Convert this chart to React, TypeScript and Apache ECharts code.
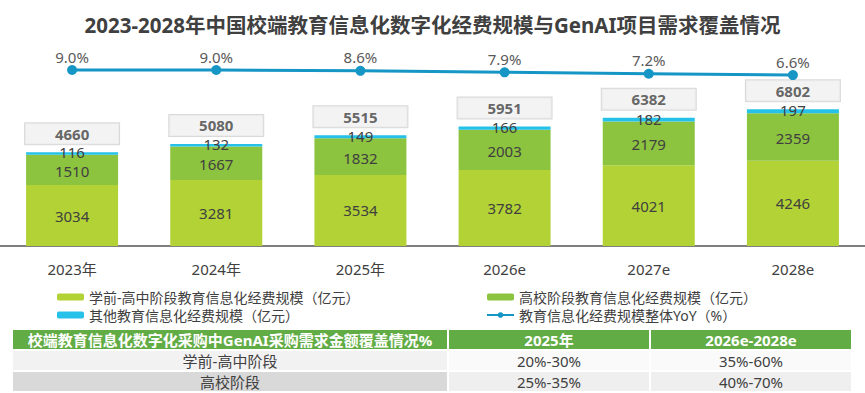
import React, { useEffect, useRef } from 'react';
import * as echarts from 'echarts';

const categories = ['2023年', '2024年', '2025年', '2026e', '2027e', '2028e'];
const k12Values = [3034, 3281, 3534, 3782, 4021, 4246];
const higherEdValues = [1510, 1667, 1832, 2003, 2179, 2359];
const otherValues = [116, 132, 149, 166, 182, 197];
const totalValues = [4660, 5080, 5515, 5951, 6382, 6802];
const yoyValues = [9.0, 9.0, 8.6, 7.9, 7.2, 6.6];

const seriesNames = [
  '学前-高中阶段教育信息化经费规模（亿元）',
  '高校阶段教育信息化经费规模（亿元）',
  '其他教育信息化经费规模（亿元）',
  '教育信息化经费规模整体YoY（%）',
];

const tableHeader = ['校端教育信息化数字化采购中GenAI采购需求金额覆盖情况%', '2025年', '2026e-2028e'];
const tableRows = [
  ['学前-高中阶段', '20%-30%', '35%-60%'],
  ['高校阶段', '25%-35%', '40%-70%'],
];

const FONT = "'Noto Sans', 'Noto Sans CJK SC', sans-serif";
const TEXT = '#404040';

export default function App() {
  const ref = useRef<HTMLDivElement>(null);

  useEffect(() => {
    if (!ref.current) return;
    const chart = echarts.init(ref.current, undefined, { renderer: 'svg' });

    const colX = [[13, 447], [449, 649], [651, 851]];
    const rowY = [[330, 19], [351, 19], [372, 19]];
    const rowFills = [
      ['#62ac45', '#62ac45', '#62ac45'],
      ['#f2f2f2', '#fafafa', '#fafafa'],
      ['#d9d9d9', '#efefef', '#efefef'],
    ];
    const tableData = [tableHeader, ...tableRows];
    const graphics: any[] = [];
    tableData.forEach((row, ri) => {
      row.forEach((cell, ci) => {
        const [x0, x1] = colX[ci];
        const [y0, h] = rowY[ri];
        graphics.push({
          type: 'rect',
          shape: { x: x0, y: y0, width: x1 - x0, height: h },
          style: { fill: rowFills[ri][ci] },
          silent: true,
        });
        graphics.push({
          type: 'text',
          x: (x0 + x1) / 2,
          y: y0 + h / 2 + 0.5,
          style: {
            text: cell,
            fill: ri === 0 ? '#ffffff' : TEXT,
            font: `${ri === 0 ? 'bold ' : ''}15px ${FONT}`,
            textAlign: 'center',
            textVerticalAlign: 'middle',
          },
          silent: true,
        });
      });
    });

    const legendCommon = {
      orient: 'vertical' as const,
      itemWidth: 27,
      itemHeight: 7,
      itemGap: 2,
      textStyle: { fontSize: 14, color: TEXT, fontFamily: FONT, lineHeight: 16 },
      selectedMode: false,
    };

    const labelCommon = {
      show: true,
      position: 'inside',
      fontSize: 15,
      lineHeight: 13,
      color: TEXT,
      fontFamily: FONT,
    };

    chart.setOption({
      animation: false,
      textStyle: { fontFamily: FONT },
      title: {
        text: '2023-2028年中国校端教育信息化数字化经费规模与GenAI项目需求覆盖情况',
        left: 'center',
        top: 15,
        padding: 0,
        textStyle: { fontSize: 20.5, fontWeight: 'bold', color: TEXT, fontFamily: FONT },
      },
      legend: [
        { ...legendCommon, left: 52, top: 284, data: [seriesNames[0], seriesNames[2]] },
        { ...legendCommon, left: 481, top: 284, data: [seriesNames[1], seriesNames[3]] },
      ],
      grid: [
        { left: -7.5, right: -9.5, top: 50, bottom: 147 },
        { left: -7.5, right: -9.5, top: 30, height: 60 },
      ],
      xAxis: [
        {
          type: 'category',
          gridIndex: 0,
          data: categories,
          axisLine: { lineStyle: { color: '#7f7f7f', width: 2 } },
          axisTick: { show: false },
          axisLabel: { fontSize: 15, color: TEXT, margin: 15, fontFamily: FONT },
        },
        { type: 'category', gridIndex: 1, data: categories, show: false },
      ],
      yAxis: [
        { type: 'value', gridIndex: 0, min: 0, max: 9751, show: false, splitLine: { show: false } },
        { type: 'value', gridIndex: 1, min: -0.52, max: 28.05, show: false, splitLine: { show: false } },
      ],
      series: [
        {
          name: seriesNames[0],
          type: 'bar',
          stack: 'total',
          barWidth: 92,
          data: k12Values,
          itemStyle: { color: '#b2d235' },
          label: labelCommon,
        },
        {
          name: seriesNames[1],
          type: 'bar',
          stack: 'total',
          barWidth: 92,
          data: higherEdValues,
          itemStyle: { color: '#8cc33f' },
          label: { ...labelCommon, offset: [0, 1] },
        },
        {
          name: seriesNames[2],
          type: 'bar',
          stack: 'total',
          barWidth: 92,
          data: otherValues,
          itemStyle: { color: '#25c1e8' },
          label: { ...labelCommon, offset: [0, -1] },
        },
        {
          name: 'total',
          type: 'scatter',
          data: totalValues,
          symbolSize: 0,
          silent: true,
          label: {
            show: true,
            position: 'top',
            distance: 8,
            fontSize: 15,
            fontWeight: 'bold',
            color: TEXT,
            fontFamily: FONT,
            backgroundColor: '#f0f0f0',
            borderColor: '#d0d0d0',
            borderWidth: 1,
            padding: [3, 5],
            width: 84,
            align: 'center',
          },
        },
        {
          name: seriesNames[3],
          type: 'line',
          xAxisIndex: 1,
          yAxisIndex: 1,
          data: yoyValues,
          symbol: 'circle',
          symbolSize: 10,
          lineStyle: { color: '#1596c5', width: 3 },
          itemStyle: { color: '#1596c5' },
          label: {
            show: true,
            position: 'top',
            distance: 1,
            fontSize: 15,
            color: '#595959',
            fontFamily: FONT,
            formatter: (p: any) => `${Number(p.value).toFixed(1)}%`,
          },
        },
      ],
      graphic: graphics,
    });

    return () => chart.dispose();
  }, []);

  return (
    <div
      ref={ref}
      style={{ position: 'fixed', left: 0, top: 0, width: 865, height: 393, background: '#ffffff' }}
    />
  );
}
